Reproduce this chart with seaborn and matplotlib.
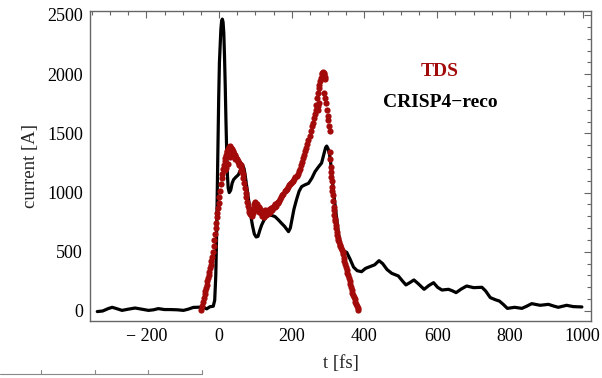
import numpy as np
import pandas as pd
import matplotlib
matplotlib.use("Agg")
import matplotlib.pyplot as plt
from matplotlib.ticker import MultipleLocator
from matplotlib.lines import Line2D
import seaborn as sns

# ---- data -------------------------------------------------------------
crisp_t = [-335, -320, -305, -294, -282, -267, -250, -231, -212, -194, -180, -167,
           -150, -135, -115, -98, -85, -71, -55, -43, -34, -25, -16, -12, -9, -7,
           -5, -3, -1, 1, 3, 5, 7, 9, 11, 13, 15, 17, 19, 21, 23, 25, 28, 32, 36,
           40, 46, 53, 60, 65, 69, 73, 77, 82, 87, 92, 97, 102, 107, 112, 117, 124,
           131, 142, 154, 163, 172, 180, 186, 191, 196, 201, 206, 213, 220, 227,
           236, 246, 255, 264, 273, 282, 288, 293, 296, 300, 304, 307, 311, 315,
           319, 324, 328, 333, 338, 343, 351, 360, 370, 380, 392, 403, 415, 428,
           440, 450, 462, 475, 493, 504, 514, 525, 536, 548, 564, 577, 590, 601,
           613, 631, 642, 652, 666, 681, 700, 723, 733, 746, 760, 771, 782, 793,
           813, 833, 846, 860, 872, 883, 895, 906, 920, 933, 945, 956, 974, 998]
crisp_i = [-5, 0, 20, 31, 20, 5, 15, 25, 15, 5, 10, 20,
           12, 12, 10, 5, 15, 30, 32, 30, 18, 36, 40, 90, 300, 600,
           1000, 1400, 1800, 2100, 2250, 2380, 2450, 2465, 2440, 2350, 2150, 1900,
           1600, 1350, 1150, 1040, 1000, 1020, 1080,
           1110, 1130, 1150, 1200, 1230, 1200, 1120, 1030, 920, 810, 720, 650, 625,
           630, 680, 725, 770,
           800, 810, 797, 770, 740, 715, 690, 670, 700, 780, 860, 940, 1010, 1050,
           1065, 1078, 1120, 1177, 1215, 1250, 1320, 1380, 1393, 1370, 1320, 1250,
           1120, 1000,
           900, 770, 660, 580, 530, 505, 496, 440, 370, 340, 332, 360, 374, 390,
           425, 400, 350, 318, 296, 255, 220, 240, 262, 230, 183, 215, 239, 200,
           177, 183, 170, 155, 185, 211, 197, 200, 170, 113, 95, 84, 55, 22,
           31, 22, 40, 62, 55, 48, 52, 56, 42, 31, 40, 48, 37, 34]

tds_t = [-50, -47, -45, -42, -40, -38, -36, -34, -32, -30, -28, -27, -25, -23, -21,
         -19, -17, -15, -13, -11, -9, -8, -6, -5, -3, -1, 1, 3, 5, 7, 9, 11, 13,
         15, 17, 19, 21, 23, 25, 27, 29, 31, 33, 35, 37, 39, 41, 43, 45, 47, 49,
         51, 53, 55, 57, 59, 61, 63, 65, 67, 69, 71, 73, 75, 77, 79, 81, 83,
         15, 20, 25, 30, 35, 45, 55, 60,
         85, 88, 90, 92, 95, 97, 99, 101, 103, 105, 107, 109, 111, 113, 115, 117,
         119, 121, 123, 125, 127, 129, 131, 133, 135, 137, 139, 141, 143, 145,
         147, 149, 151, 153, 155, 157, 159, 161, 163,
         165, 168, 171, 174, 177, 180, 183, 186, 189, 192, 195, 198, 201, 204,
         207, 210, 213, 216, 219, 222, 225, 228, 231, 234, 237, 240, 243, 246,
         249, 252, 255, 258, 261, 264, 266, 268, 270, 272, 274, 276, 278, 280,
         282, 284, 286, 288, 290, 291, 292,
         272, 273, 274, 290, 292, 295, 297, 299, 300, 302, 305,
         305, 306, 307, 308, 309, 310, 311, 312, 313, 314, 315, 316, 317, 318,
         320, 321, 322, 324, 325, 326, 328, 330, 332, 334, 336, 338, 340, 341,
         343, 345, 347, 349, 351, 353, 355, 357, 359, 361, 363, 365, 367, 369,
         371, 373, 375, 377, 379, 381, 383]
tds_i = [5, 40, 75, 110, 140, 165, 190, 220, 250, 280, 300, 330, 360, 390, 420,
         460, 500, 550, 600, 650, 700, 740, 790, 830, 870, 910, 960, 1010, 1070,
         1120, 1160, 1200, 1230,
         1265, 1290, 1320, 1340, 1355, 1370, 1385, 1390, 1380, 1375, 1365, 1350,
         1340, 1330, 1320, 1305, 1295, 1285,
         1270, 1260, 1250, 1240, 1230, 1215, 1190, 1160, 1120, 1080, 1040, 1000,
         960, 920, 890, 860, 840,
         1190, 1210, 1240, 1300, 1330, 1280, 1230, 1180,
         820, 850, 800, 830, 870, 900, 920, 880, 850, 900, 870, 840, 880, 860,
         830, 800,
         840, 810, 790, 830, 850, 810, 840, 820, 850, 830, 860, 840, 870, 850,
         880, 870, 890, 880, 900, 890, 910, 920, 910,
         930, 950, 960, 980, 990, 1010, 1020, 1030, 1045, 1060, 1070, 1080, 1090,
         1100, 1115, 1130, 1140, 1160, 1180, 1200, 1230, 1260, 1290, 1320, 1350,
         1380, 1410, 1440, 1480, 1520, 1560, 1590, 1630, 1660, 1700, 1740, 1800,
         1840, 1880, 1910, 1940, 1970, 2000, 2010, 2015, 2010, 2000, 1980, 1960,
         1730, 1700, 1760, 1840, 1800, 1760, 1700, 1650, 1610, 1560, 1520,
         1340, 1280, 1220, 1170, 1130, 1100, 1050, 1010, 980, 930, 880, 850, 810,
         780, 760, 730, 700, 670, 640, 620, 600, 580, 560, 545, 530, 515, 500,
         480, 450, 420, 395, 370, 345, 320, 300, 275, 250, 225, 200, 178, 155,
         135, 115, 100, 80, 60, 45, 25, 8]

x_ticks = [-200, 0, 200, 400, 600, 800, 1000]
y_ticks = [0, 500, 1000, 1500, 2000, 2500]

crisp = pd.DataFrame({"t": crisp_t, "I": crisp_i})
tds = pd.DataFrame({"t": tds_t, "I": tds_i})

# ---- style ------------------------------------------------------------
sns.set_theme(style="white")
plt.rcParams["font.family"] = ["Liberation Serif", "DejaVu Serif"]
plt.rcParams["axes.unicode_minus"] = True

RED = "#a30a0a"
FRAME = "#666666"

fig = plt.figure(figsize=(6.02, 3.78), dpi=100)
ax = fig.add_axes([0.1495, 0.151, 0.8322, 0.820])

sns.lineplot(data=crisp, x="t", y="I", ax=ax, color="black", linewidth=2.3,
             sort=False, estimator=None, zorder=2)
sns.scatterplot(data=tds, x="t", y="I", ax=ax, color=RED, s=20, linewidth=0,
                zorder=3)

ax.set_xlim(-355, 1023)
ax.set_ylim(-84, 2534)
ax.set_xticks(x_ticks)
ax.set_yticks(y_ticks)
ax.set_xticklabels([str(v).replace("-", "\u2212 ") for v in x_ticks])
ax.xaxis.set_minor_locator(MultipleLocator(50))
ax.yaxis.set_minor_locator(MultipleLocator(100))

ax.tick_params(which="both", direction="in", top=True, right=True,
               colors=FRAME, labelcolor="black", labelsize=13, width=0.8)
ax.tick_params(which="major", length=5)
ax.tick_params(which="minor", length=2.8)
ax.tick_params(axis="y", pad=5)
ax.tick_params(axis="x", pad=5)
for sp in ax.spines.values():
    sp.set_color(FRAME)
    sp.set_linewidth(1.0)

ax.set_xlabel("t [fs]", fontsize=13.5, labelpad=7)
ax.set_ylabel("current [A]", fontsize=13.5, labelpad=6)

ax.text(608, 2019, "TDS", color=RED, fontsize=14, fontweight="bold",
        ha="center", va="center")
ax.text(608, 1765, "CRISP4\u2212reco", color="black", fontsize=14,
        fontweight="bold", ha="center", va="center")

# fragment of a neighbouring frame at the bottom-left edge
fig.add_artist(Line2D([0, 202 / 602], [1 - 374 / 378, 1 - 374 / 378],
                      transform=fig.transFigure, color="#888888", lw=0.8))
for xp in [41, 95, 148, 202]:
    fig.add_artist(Line2D([xp / 602, xp / 602], [1 - 374 / 378, 1 - 370 / 378],
                          transform=fig.transFigure, color="#888888", lw=0.8))

fig.savefig("out.png", dpi=100)
